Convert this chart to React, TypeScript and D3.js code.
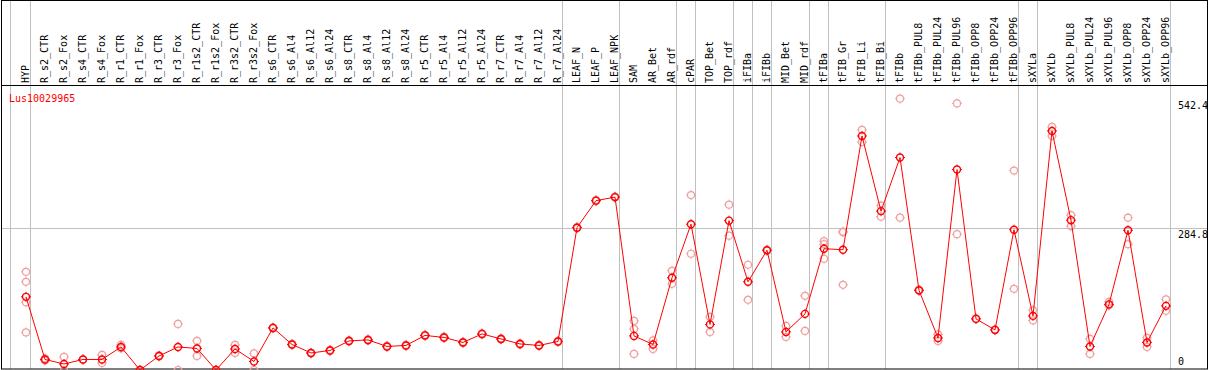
import React, { useEffect, useRef } from "react";
import * as d3 from "d3";

// sample columns, left to right
const samples = [
  "HYP", "R_s2_CTR", "R_s2_Fox", "R_s4_CTR", "R_s4_Fox", "R_r1_CTR", "R_r1_Fox", "R_r3_CTR", "R_r3_Fox",
  "R_r1s2_CTR", "R_r1s2_Fox", "R_r3s2_CTR", "R_r3s2_Fox", "R_s6_CTR", "R_s6_Al4", "R_s6_Al12", "R_s6_Al24",
  "R_s8_CTR", "R_s8_Al4", "R_s8_Al12", "R_s8_Al24", "R_r5_CTR", "R_r5_Al4", "R_r5_Al12", "R_r5_Al24",
  "R_r7_CTR", "R_r7_Al4", "R_r7_Al12", "R_r7_Al24", "LEAF_N", "LEAF_P", "LEAF_NPK", "SAM", "AR_Bet", "AR_rdf",
  "cPAR", "TOP_Bet", "TOP_rdf", "iFIBa", "iFIBb", "MID_Bet", "MID_rdf", "tFIBa", "tFIB_Gr", "tFIB_Li", "tFIB_Bi",
  "tFIBb", "tFIBb_PUL8", "tFIBb_PUL24", "tFIBb_PUL96", "tFIBb_OPP8", "tFIBb_OPP24", "tFIBb_OPP96",
  "sXYLa", "sXYLb", "sXYLb_PUL8", "sXYLb_PUL24", "sXYLb_PUL96", "sXYLb_OPP8", "sXYLb_OPP24", "sXYLb_OPP96",
];

// mean expression per sample
const means = [
  147, 22, 13, 22, 22, 47, 1, 29, 47, 44, 1, 43, 18, 85, 52, 35, 40, 59, 61, 48, 50, 70, 66, 56, 73, 63, 53, 50, 58,
  285, 339, 346, 69, 52, 185, 292, 92, 299, 177, 240, 77, 113, 243, 241, 468, 318, 425, 160, 65, 401, 103, 81, 281,
  109, 478, 300, 48, 132, 280, 56, 129,
];

// individual replicates per sample
const replicates = [
  [197, 177, 136, 76], [24, 20], [27, 0], [22, 22], [31, 15], [51, 44], [1, 1], [30, 28], [93, 1], [59, 29],
  [1, 1], [51, 35], [34, 1], [86, 84], [53, 51], [35, 34], [41, 39], [60, 58], [62, 60], [49, 47], [51, 49],
  [71, 69], [67, 65], [57, 55], [74, 72], [64, 62], [54, 52], [51, 49], [59, 57], [286, 284], [340, 338],
  [347, 345], [99, 83, 33], [60, 43], [199, 173], [350, 233], [107, 77], [331, 269], [211, 141], [241, 239],
  [89, 67], [149, 79], [258, 252, 223], [277, 276, 171], [480, 456], [329, 307], [542.4, 305], [161, 159],
  [72, 59], [533, 272], [104, 103], [82, 81], [399, 163], [120, 100], [486, 468], [310, 288], [63, 33],
  [137, 130], [305, 252], [65, 47], [142, 119],
];

// group separators drawn after these samples
const groupEnds = [
  "HYP", "R_r7_Al24", "LEAF_NPK", "AR_rdf", "cPAR", "TOP_rdf", "iFIBa", "iFIBb", "MID_rdf", "tFIBa",
  "tFIB_Bi", "tFIBb_OPP96", "sXYLa", "sXYLb_OPP96",
];

const yTicks = [542.4, 284.8, 0];
const geneName = "Lus10029965";

const W = 1209;
const H = 370;
const FONT = "'DejaVu Sans Mono', monospace";

const marker = (g, x, y, color, sw) => {
  g.append("circle").attr("cx", x).attr("cy", y).attr("r", 3.5)
    .attr("fill", "none").attr("stroke", color).attr("stroke-width", sw);
  [[0, -1], [0, 1], [-1, 0], [1, 0]].forEach(([dx, dy]) => {
    g.append("line")
      .attr("x1", x + dx * 3.5).attr("y1", y + dy * 3.5)
      .attr("x2", x + dx * 5).attr("y2", y + dy * 5)
      .attr("stroke", color).attr("stroke-width", 1);
  });
};

const App = () => {
  const ref = useRef(null);

  useEffect(() => {
    const svg = d3.select(ref.current);
    svg.selectAll("*").remove();

    const x = d3.scalePoint().domain(samples).range([26, 1166]);
    const y = d3.scaleLinear().domain([0, 542.4]).range([370.5, 98.7]);

    // grid + separators
    const grid = svg.append("g").attr("stroke", "#c0c0c0").attr("stroke-width", 1);
    grid.append("line").attr("x1", 10.5).attr("x2", 10.5).attr("y1", 0).attr("y2", 369);
    groupEnds.forEach((s) => {
      const gx = Math.round(x(s) + 4) + 0.5;
      grid.append("line").attr("x1", gx).attr("x2", gx).attr("y1", 0).attr("y2", 369);
    });
    const gy = Math.round(y(284.8)) + 0.5;
    grid.append("line").attr("x1", 1).attr("x2", 1208).attr("y1", gy).attr("y2", gy);

    // frame
    svg.append("rect").attr("x", 1.5).attr("y", 0.5).attr("width", 1206).attr("height", 368.5)
      .attr("fill", "none").attr("stroke", "#000");
    svg.append("line").attr("x1", 1).attr("x2", 1208).attr("y1", 85.5).attr("y2", 85.5).attr("stroke", "#000");

    // column labels
    svg.append("g").selectAll("text").data(samples).enter().append("text")
      .attr("transform", (d) => `translate(${Math.round(x(d) + 3)},83) rotate(-90)`)
      .attr("font-family", FONT).attr("font-size", 10).attr("fill", "#000")
      .text((d) => d);

    // y labels
    svg.append("g").selectAll("text").data(yTicks).enter().append("text")
      .attr("x", 1178)
      .attr("y", (d) => Math.min(y(d) + 10, 365))
      .attr("font-family", FONT).attr("font-size", 10).attr("fill", "#000")
      .text((d) => d);

    svg.append("text").attr("x", 9).attr("y", 102)
      .attr("font-family", FONT).attr("font-size", 10).attr("fill", "#ff0000")
      .text(geneName);

    // replicates
    const reps = svg.append("g");
    replicates.forEach((vals, i) => {
      vals.forEach((v) => marker(reps, x(samples[i]), y(v), "#f0a0a0", 1.2));
    });

    // mean line
    const line = d3.line().x((d, i) => x(samples[i])).y((d) => y(d));
    svg.append("path").attr("d", line(means)).attr("fill", "none")
      .attr("stroke", "#ff0000").attr("stroke-width", 1);

    const pts = svg.append("g");
    means.forEach((v, i) => marker(pts, x(samples[i]), y(v), "#ff0000", 1.4));
  }, []);

  return (
    <svg ref={ref} width={W} height={H} style={{ position: "absolute", left: 0, top: 0 }}></svg>
  );
};

export default App;
